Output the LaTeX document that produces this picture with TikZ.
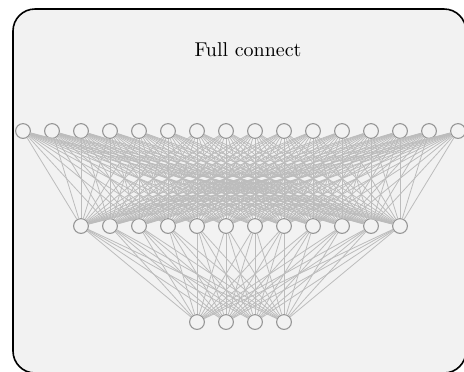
\documentclass[tikz,border=0pt]{standalone}
\definecolor{bgfill}{RGB}{242,242,242}
\definecolor{edgegray}{RGB}{188,188,188}
\definecolor{ringgray}{RGB}{150,150,150}
\begin{document}
\begin{tikzpicture}[x=0.5pt,y=-0.5pt,
  neuron/.style={circle,draw=ringgray,line width=0.55pt,fill=bgfill,minimum size=7.4pt,inner sep=0pt},
  conn/.style={draw=edgegray,line width=0.4pt},
  frame/.style={draw=black,line width=0.8pt,fill=bgfill,rounded corners=11pt}]
\useasboundingbox (0,0) rectangle (464,371);
\begin{scope}
  \clip (0,0) rectangle (464,371);
  \draw[frame] (13,9) rectangle (466,373);
\end{scope}
\node (title) at (248,50) {Full connect};
\foreach \i in {1,...,16} \node[neuron] (t\i) at ({23+29*(\i-1)},131) {};
\foreach \i in {1,...,12} \node[neuron] (m\i) at ({81+29*(\i-1)},226) {};
\foreach \i in {1,...,4} \node[neuron] (b\i) at ({197+29*(\i-1)},322) {};
\foreach \i in {1,...,16} {\foreach \j in {1,...,12} {\draw[conn] (t\i) -- (m\j);}}
\foreach \i in {1,...,12} {\foreach \j in {1,...,4} {\draw[conn] (m\i) -- (b\j);}}
\end{tikzpicture}
\end{document}
